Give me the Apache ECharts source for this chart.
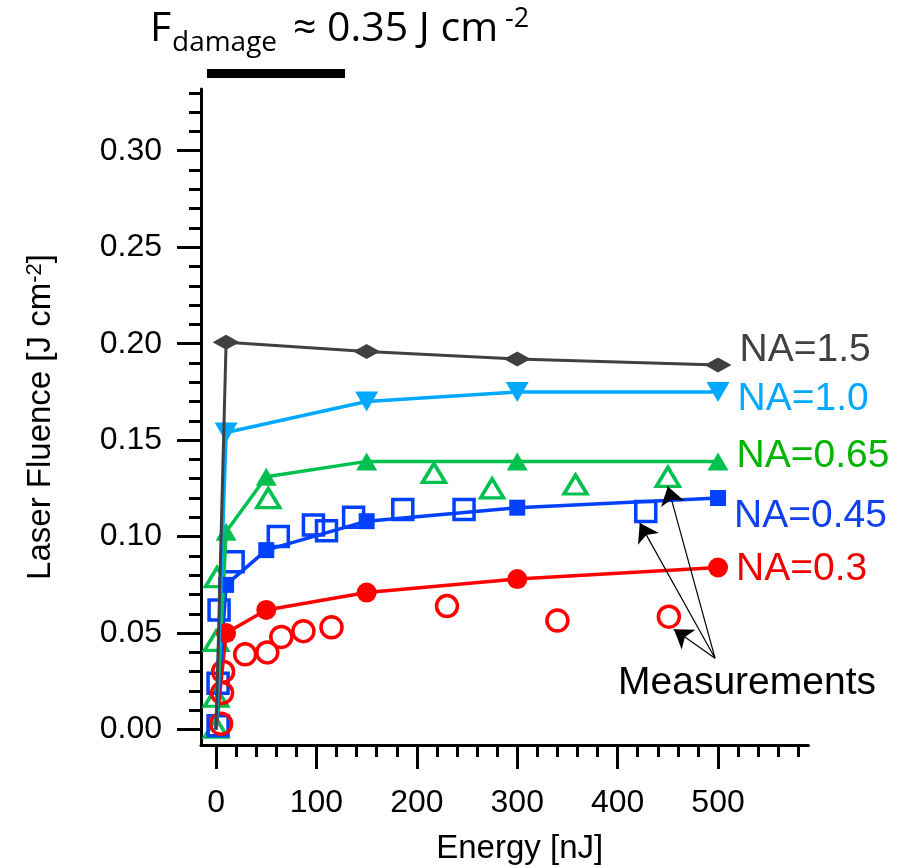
<!DOCTYPE html>
<html>
<head>
<meta charset="utf-8">
<script src="https://cdn.jsdelivr.net/npm/echarts@6/dist/echarts.min.js"></script>
<style>
  html, body { margin: 0; padding: 0; background: #fff; }
  #chart { width: 915px; height: 867px; }
</style>
</head>
<body>
<div id="chart"></div>
<script>
// Model curves: pulse energy [nJ] vs. peak laser fluence [J cm^-2]
const modelE_15  = [0, 10, 150, 300, 500];
const modelF_15  = [0, 0.2007, 0.196, 0.192, 0.189];
const modelE_10  = [0, 10, 150, 300, 500];
const modelF_10  = [0, 0.154, 0.170, 0.175, 0.175];
const modelE_065 = [0, 10, 50, 150, 300, 500];
const modelF_065 = [0, 0.1025, 0.131, 0.139, 0.139, 0.139];
const modelE_045 = [0, 10, 50, 150, 300, 500];
const modelF_045 = [0, 0.075, 0.093, 0.108, 0.115, 0.120];
const modelE_03  = [0, 10, 50, 150, 300, 500];
const modelF_03  = [0, 0.050, 0.062, 0.071, 0.078, 0.084];

// Measured fluence (open symbols)
const measE_065 = [0, 0, 0, 1, 52, 217, 275, 358, 450];
const measF_065 = [0.001, 0.017, 0.046, 0.079, 0.120, 0.133, 0.125, 0.127, 0.131];
const measE_045 = [2, 2, 3, 17, 62, 97, 110, 137, 186, 247, 428];
const measF_045 = [0.002, 0.024, 0.062, 0.087, 0.100, 0.106, 0.103, 0.110, 0.114, 0.114, 0.113];
const measE_03  = [5, 6, 7, 29, 51, 65, 87, 115, 230, 340, 451];
const measF_03  = [0.003, 0.019, 0.030, 0.039, 0.040, 0.048, 0.051, 0.053, 0.064, 0.0565, 0.0585];

const naLabels = ['NA=1.5', 'NA=1.0', 'NA=0.65', 'NA=0.45', 'NA=0.3'];

// Axis ticks
const xMajorTicks = [0, 100, 200, 300, 400, 500];
const xMinorTicks = [20, 40, 60, 80, 120, 140, 160, 180, 220, 240, 260, 280,
                     320, 340, 360, 380, 420, 440, 460, 480, 520, 540, 560, 580];
const yMajorTicks = [0, 0.05, 0.10, 0.15, 0.20, 0.25, 0.30];
const yMinorTicks = [0.01, 0.02, 0.03, 0.04, 0.06, 0.07, 0.08, 0.09, 0.11, 0.12, 0.13, 0.14,
                     0.16, 0.17, 0.18, 0.19, 0.21, 0.22, 0.23, 0.24, 0.26, 0.27, 0.28, 0.29,
                     0.31, 0.32, 0.33];

// Arrows from the "Measurements" note to the sample points
const arrowStart = [497, 0.037];
const arrowEnds = [[422, 0.107], [450, 0.126], [456, 0.052]];

const FONT = '"Liberation Sans", Arial, sans-serif';
const TITLE_FONT = '"Open Sans", sans-serif';

function pairs(es, fs) { return es.map((e, i) => [e, fs[i]]); }

function modelSeries(es, fs, color, lineWidth, symbol, size, rotate, label, labelColor, labelOffset, z) {
  const data = pairs(es, fs).map((p, i) => {
    const item = { value: p };
    if (p[0] === 0) item.symbol = 'none';
    if (i === es.length - 1) {
      item.label = {
        show: true, formatter: label, position: 'right', distance: 8,
        offset: labelOffset, color: labelColor, fontSize: 39, fontFamily: FONT
      };
    }
    return item;
  });
  return {
    type: 'line', data, z, clip: false,
    symbol, symbolSize: size, symbolRotate: rotate, showAllSymbol: true,
    lineStyle: { color, width: lineWidth },
    itemStyle: { color, borderWidth: 0, opacity: 1 },
    emphasis: { disabled: true }
  };
}

function measSeries(es, fs, color, symbol, size) {
  return {
    type: 'scatter', data: pairs(es, fs), z: 3, clip: false,
    symbol, symbolSize: size,
    itemStyle: { color: 'rgba(0,0,0,0)', borderColor: color, borderWidth: 3.5, opacity: 1 },
    emphasis: { disabled: true }
  };
}

const chart = echarts.init(document.getElementById('chart'), null, { renderer: 'canvas' });

const axisCommon = {
  type: 'value',
  splitLine: { show: false },
  axisLine: { onZero: false }
};

chart.setOption({
  animation: false,
  backgroundColor: '#ffffff',
  grid: { left: 201, top: 89, width: 607.4, height: 656, outerBoundsMode: 'none', containLabel: false },
  xAxis: [
    Object.assign({}, axisCommon, {
      min: -15, max: 590, position: 'bottom',
      name: 'Energy [nJ]', nameLocation: 'middle', nameGap: 87,
      nameTextStyle: { fontSize: 33, fontFamily: FONT, color: '#000', padding: [0, 0, 0, 30] },
      axisLine: { show: true, onZero: false, lineStyle: { color: '#000', width: 3 } },
      axisTick: { show: true, customValues: xMajorTicks, length: 24, lineStyle: { color: '#000', width: 3 } },
      axisLabel: { show: true, customValues: xMajorTicks, margin: 42, fontSize: 32, fontFamily: FONT, color: '#000' }
    }),
    Object.assign({}, axisCommon, {
      min: -15, max: 590, position: 'bottom',
      axisLine: { show: false, onZero: false },
      axisTick: { show: true, customValues: xMinorTicks, length: 12, lineStyle: { color: '#000', width: 3 } },
      axisLabel: { show: false }
    })
  ],
  yAxis: [
    Object.assign({}, axisCommon, {
      min: -0.008, max: 0.332, position: 'left',
      name: 'Laser Fluence [J cm{sup|-2}]', nameLocation: 'middle', nameGap: 144, nameRotate: 90,
      nameTextStyle: {
        fontSize: 33, fontFamily: FONT, color: '#000',
        rich: { sup: { fontSize: 22, fontFamily: FONT, color: '#000', verticalAlign: 'top', lineHeight: 14 } }
      },
      axisLine: { show: true, onZero: false, lineStyle: { color: '#000', width: 3 } },
      axisTick: { show: true, customValues: yMajorTicks, length: 24, lineStyle: { color: '#000', width: 3 } },
      axisLabel: {
        show: true, customValues: yMajorTicks, margin: 39, fontSize: 32, fontFamily: FONT, color: '#000',
        formatter: v => v.toFixed(2)
      }
    }),
    Object.assign({}, axisCommon, {
      min: -0.008, max: 0.332, position: 'left',
      axisLine: { show: false, onZero: false },
      axisTick: { show: true, customValues: yMinorTicks, length: 12, lineStyle: { color: '#000', width: 3 } },
      axisLabel: { show: false }
    })
  ],
  series: [
    measSeries(measE_065, measF_065, '#00c050', 'triangle', [23, 19]),
    measSeries(measE_045, measF_045, '#0040ff', 'rect', 20),
    measSeries(measE_03, measF_03, '#ff0000', 'circle', 21),
    modelSeries(modelE_03, modelF_03, '#ff0000', 3.5, 'circle', 20, 0, naLabels[4], '#f00000', [0, 2], 5),
    modelSeries(modelE_045, modelF_045, '#0040ff', 3.5, 'rect', 16, 0, naLabels[3], '#1040f0', [0, 18], 5),
    modelSeries(modelE_065, modelF_065, '#00c050', 3.5, 'triangle', [21, 18], 0, naLabels[2], '#00b400', [0, -5], 5),
    modelSeries(modelE_10, modelF_10, '#00a8ff', 3.5, 'triangle', [23, 20], 180, naLabels[1], '#00a8ff', [0, 7], 6),
    modelSeries(modelE_15, modelF_15, '#404040', 3, 'diamond', [27, 15], 0, naLabels[0], '#404040', [0, -15], 7),
    {
      type: 'lines', coordinateSystem: 'cartesian2d', z: 8,
      symbol: ['none', 'arrow'], symbolSize: [0, 18],
      lineStyle: { color: '#000', width: 1.2, opacity: 1, curveness: 0 },
      data: arrowEnds.map(end => ({ coords: [arrowStart, end] })),
      silent: true
    }
  ],
  graphic: [
    // damage-threshold note at the top
    { type: 'text', left: 150, top: 9, style: { text: 'F', fontSize: 41, fontFamily: TITLE_FONT, fill: '#000' } },
    { type: 'text', left: 172, top: 29, style: { text: 'damage', fontSize: 28, fontFamily: TITLE_FONT, fill: '#000' } },
    { type: 'text', left: 293, top: 9, style: { text: '\u2248 0.35 J cm', fontSize: 41, fontFamily: TITLE_FONT, fill: '#000' } },
    { type: 'text', left: 505, top: 6, style: { text: '-2', fontSize: 27, fontFamily: TITLE_FONT, fill: '#000' } },
    { type: 'rect', shape: { x: 207, y: 69, width: 138, height: 9 }, style: { fill: '#000' } },
    { type: 'text', x: 747, y: 683, style: { text: 'Measurements', fontSize: 39, fontFamily: FONT, fill: '#000', align: 'center', verticalAlign: 'middle' } }
  ]
});
</script>
</body>
</html>
